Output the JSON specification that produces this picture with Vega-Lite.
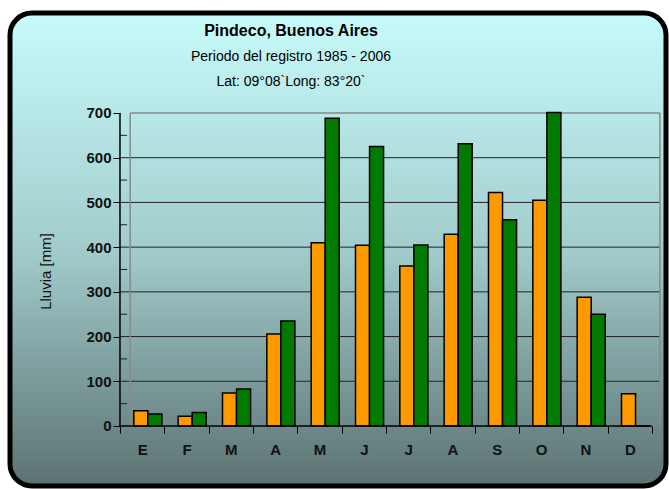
{
  "$schema": "https://vega.github.io/schema/vega-lite/v6.json",
  "width": 656,
  "height": 473,
  "autosize": "none",
  "padding": {"left": 10, "top": 13, "right": 3, "bottom": 3},
  "background": "white",
  "config": {
    "font": "Liberation Sans",
    "view": {
      "fill": {"gradient": "linear", "x1": 0, "y1": 0, "x2": 0, "y2": 1,
        "stops": [
          {"offset": 0, "color": "#c8fbfb"},
          {"offset": 0.5, "color": "#a2cccc"},
          {"offset": 1, "color": "#5c7272"}
        ]},
      "stroke": "black",
      "strokeWidth": 5,
      "cornerRadius": 22
    }
  },
  "title": {
    "text": "Pindeco, Buenos Aires",
    "subtitle": ["Periodo del registro 1985 - 2006", "Lat: 09°08`Long: 83°20`"],
    "anchor": "middle",
    "frame": "group",
    "offset": -76,
    "dx": -47,
    "font": "Liberation Sans",
    "fontSize": 16,
    "fontWeight": "bold",
    "color": "black",
    "subtitleFont": "Liberation Sans",
    "subtitleFontSize": 14,
    "subtitleColor": "black",
    "subtitlePadding": 11,
    "subtitleLineHeight": 25
  },
  "datasets": {
    "lluvia": [
      {"mes": "Enero", "serie": "Serie 1", "mm": 34},
      {"mes": "Enero", "serie": "Serie 2", "mm": 27},
      {"mes": "Febrero", "serie": "Serie 1", "mm": 22},
      {"mes": "Febrero", "serie": "Serie 2", "mm": 30},
      {"mes": "Marzo", "serie": "Serie 1", "mm": 74},
      {"mes": "Marzo", "serie": "Serie 2", "mm": 83},
      {"mes": "Abril", "serie": "Serie 1", "mm": 206},
      {"mes": "Abril", "serie": "Serie 2", "mm": 235},
      {"mes": "Mayo", "serie": "Serie 1", "mm": 410},
      {"mes": "Mayo", "serie": "Serie 2", "mm": 688},
      {"mes": "Junio", "serie": "Serie 1", "mm": 404},
      {"mes": "Junio", "serie": "Serie 2", "mm": 625},
      {"mes": "Julio", "serie": "Serie 1", "mm": 358},
      {"mes": "Julio", "serie": "Serie 2", "mm": 405},
      {"mes": "Agosto", "serie": "Serie 1", "mm": 429},
      {"mes": "Agosto", "serie": "Serie 2", "mm": 631},
      {"mes": "Septiembre", "serie": "Serie 1", "mm": 522},
      {"mes": "Septiembre", "serie": "Serie 2", "mm": 461},
      {"mes": "Octubre", "serie": "Serie 1", "mm": 505},
      {"mes": "Octubre", "serie": "Serie 2", "mm": 701},
      {"mes": "Noviembre", "serie": "Serie 1", "mm": 288},
      {"mes": "Noviembre", "serie": "Serie 2", "mm": 250},
      {"mes": "Diciembre", "serie": "Serie 1", "mm": 72},
      {"mes": "Diciembre", "serie": "Serie 2", "mm": 0}
    ],
    "grid": [{"mm": 100}, {"mm": 200}, {"mm": 300}, {"mm": 400}, {"mm": 500}, {"mm": 600}],
    "minor": [{"mm": 50}, {"mm": 150}, {"mm": 250}, {"mm": 350}, {"mm": 450}, {"mm": 550}, {"mm": 650}],
    "one": [{"mm": 0}]
  },
  "resolve": {"scale": {"x": "independent"}, "axis": {"y": "independent", "x": "independent"}},
  "layer": [
    {
      "data": {"name": "grid"},
      "mark": {"type": "rule", "color": "#222222", "strokeWidth": 1},
      "encoding": {
        "y": {"field": "mm", "type": "quantitative", "scale": {"domain": [-134.2, 923.6], "nice": false, "zero": false}, "axis": null},
        "x": {"datum": 0, "type": "quantitative", "scale": {"domain": [-2.481, 12.317], "nice": false, "zero": false}, "axis": null},
        "x2": {"datum": 12.18}
      }
    },
    {
      "data": {"name": "minor"},
      "mark": {"type": "rule", "color": "#222222", "strokeWidth": 1},
      "encoding": {
        "y": {"field": "mm", "type": "quantitative", "scale": {"domain": [-134.2, 923.6], "nice": false, "zero": false}, "axis": null},
        "x": {"datum": 0, "type": "quantitative", "scale": {"domain": [-2.481, 12.317], "nice": false, "zero": false}, "axis": null},
        "x2": {"datum": 0.16}
      }
    },
    {
      "data": {"name": "one"},
      "mark": {"type": "rule", "color": "#8a8a8a", "strokeWidth": 1.5},
      "encoding": {
        "y": {"datum": 700, "type": "quantitative", "scale": {"domain": [-134.2, 923.6], "nice": false, "zero": false}, "axis": null},
        "x": {"datum": 0.23, "type": "quantitative", "scale": {"domain": [-2.481, 12.317], "nice": false, "zero": false}, "axis": null},
        "x2": {"datum": 12.18}
      }
    },
    {
      "data": {"name": "one"},
      "mark": {"type": "rule", "color": "#8a8a8a", "strokeWidth": 1.5},
      "encoding": {
        "y": {"datum": 0, "type": "quantitative", "scale": {"domain": [-134.2, 923.6], "nice": false, "zero": false}, "axis": null},
        "y2": {"datum": 700},
        "x": {"datum": 0.23, "type": "quantitative", "scale": {"domain": [-2.481, 12.317], "nice": false, "zero": false}, "axis": null}
      }
    },
    {
      "data": {"name": "one"},
      "mark": {"type": "rule", "color": "#8a8a8a", "strokeWidth": 1.5},
      "encoding": {
        "y": {"datum": 0, "type": "quantitative", "scale": {"domain": [-134.2, 923.6], "nice": false, "zero": false}, "axis": null},
        "y2": {"datum": 700},
        "x": {"datum": 12.18, "type": "quantitative", "scale": {"domain": [-2.481, 12.317], "nice": false, "zero": false}, "axis": null}
      }
    },
    {
      "data": {"name": "one"},
      "mark": {"type": "rule", "color": "black", "strokeWidth": 1.5},
      "encoding": {
        "y": {"datum": 0, "type": "quantitative", "scale": {"domain": [-134.2, 923.6], "nice": false, "zero": false}, "axis": null},
        "y2": {"datum": 700},
        "x": {"datum": 0, "type": "quantitative", "scale": {"domain": [-2.481, 12.317], "nice": false, "zero": false}, "axis": null}
      }
    },
    {
      "data": {"name": "lluvia"},
      "mark": {"type": "bar", "stroke": "black", "strokeWidth": 1.5},
      "encoding": {
        "x": {
          "field": "mes", "type": "nominal",
          "sort": ["Enero", "Febrero", "Marzo", "Abril", "Mayo", "Junio", "Julio", "Agosto", "Septiembre", "Octubre", "Noviembre", "Diciembre"],
          "scale": {"paddingInner": 0, "paddingOuter": 0, "range": [110, 642]},
          "axis": {
            "orient": "bottom", "offset": -60, "domain": false,
            "tickBand": "extent", "tickSize": 7, "tickColor": "black", "tickWidth": 1,
            "labelExpr": "substring(datum.label, 0, 1)", "labelAngle": 0,
            "labelFont": "Liberation Sans", "labelFontSize": 15, "labelFontWeight": "bold",
            "labelColor": "#111111", "labelPadding": 9, "title": null
          }
        },
        "xOffset": {"field": "serie", "type": "nominal", "scale": {"paddingInner": 0, "paddingOuter": 0.58, "align": 0.85}},
        "y": {
          "field": "mm", "type": "quantitative",
          "scale": {"domain": [-134.2, 923.6], "nice": false, "zero": false},
          "axis": {
            "orient": "left", "offset": -110, "domain": false, "grid": false,
            "values": [0, 100, 200, 300, 400, 500, 600, 700],
            "tickSize": 7, "tickColor": "black", "tickWidth": 1,
            "labelFont": "Liberation Sans", "labelFontSize": 15, "labelFontWeight": "bold",
            "labelColor": "#111111", "labelPadding": 2,
            "title": "Lluvia [mm]", "titleFont": "Liberation Sans", "titleFontSize": 15,
            "titleFontWeight": "normal", "titleColor": "#111111", "titlePadding": 32,
            "titleY": 258
          }
        },
        "y2": {"datum": 0},
        "color": {"field": "serie", "type": "nominal", "scale": {"range": ["#FF9900", "#007A00"]}, "legend": null}
      }
    },
    {
      "data": {"name": "one"},
      "mark": {"type": "rule", "color": "black", "strokeWidth": 1.5},
      "encoding": {
        "y": {"datum": 0, "type": "quantitative", "scale": {"domain": [-134.2, 923.6], "nice": false, "zero": false}, "axis": null},
        "x": {"datum": 0, "type": "quantitative", "scale": {"domain": [-2.481, 12.317], "nice": false, "zero": false}, "axis": null},
        "x2": {"datum": 12}
      }
    }
  ]
}
